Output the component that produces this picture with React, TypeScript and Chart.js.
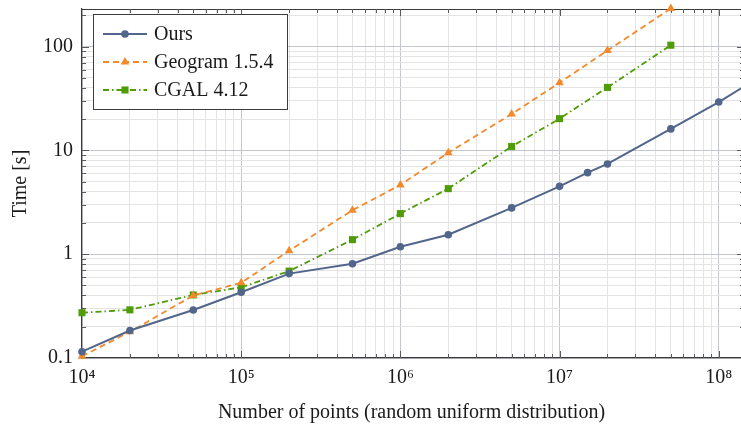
import React, { useEffect, useRef } from "react";
import { Chart, registerables } from "chart.js";

Chart.register(...registerables);

// ---------- data ----------
const seriesNames = ["Ours", "Geogram 1.5.4", "CGAL 4.12"];

const oursX = [1e4, 2e4, 5e4, 1e5, 2e5, 5e5, 1e6, 2e6, 5e6, 1e7, 1.5e7, 2e7, 5e7, 1e8, 2e8];
const oursT = [0.115, 0.184, 0.29, 0.43, 0.65, 0.81, 1.18, 1.54, 2.79, 4.5, 6.1, 7.4, 16.1, 29.2, 56];

const geogramX = [1e4, 2e4, 5e4, 1e5, 2e5, 5e5, 1e6, 2e6, 5e6, 1e7, 2e7, 5e7];
const geogramT = [0.104, 0.179, 0.4, 0.53, 1.08, 2.65, 4.65, 9.5, 22.4, 44.8, 91.6, 232];

const cgalX = [1e4, 2e4, 5e4, 1e5, 2e5, 5e5, 1e6, 2e6, 5e6, 1e7, 2e7, 5e7];
const cgalT = [0.273, 0.291, 0.405, 0.479, 0.687, 1.38, 2.46, 4.28, 10.9, 20.2, 40.4, 103];

const xMajorTicks = [1e4, 1e5, 1e6, 1e7, 1e8];
const xTickLabels = ["10⁴", "10⁵", "10⁶", "10⁷", "10⁸"];
const yMajorTicks = [0.1, 1, 10, 100];
const yTickLabels = ["0.1", "1", "10", "100"];
const minorSteps = [2, 3, 4, 5, 6, 7, 8, 9];

const xMin = 1e4;
const xMax = 1.38e8;
const yMin = 0.1;
const yMax = 230;

const xTitle = "Number of points (random uniform distribution)";
const yTitle = "Time [s]";

// ---------- styles ----------
const FONT = '"Liberation Serif", "DejaVu Serif", serif';
const TEXT = "#1a1a1a";
const AXIS = "#3c3c3c";
const GRID_MAJOR = "#c3c7cc";
const GRID_MINOR = "#e4e4e4";
const C_OURS = "#52658b";
const C_GEO = "#f3892b";
const C_CGAL = "#4f9c08";

const isMajor = (v: number) => {
  const l = Math.log10(v);
  return Math.abs(l - Math.round(l)) < 1e-6;
};

const buildTicks = (majors: number[], min: number, max: number) => {
  const out: number[] = [];
  majors.forEach((m) => {
    out.push(m);
    minorSteps.forEach((s) => out.push(m * s));
  });
  return out.filter((v) => v >= min * 0.9999 && v <= max * 1.0001).sort((a, b) => a - b);
};

const labelFor = (v: number, majors: number[], labels: string[]) => {
  for (let i = 0; i < majors.length; i++) {
    if (Math.abs(Math.log10(v) - Math.log10(majors[i])) < 1e-6) return labels[i];
  }
  return "";
};

const drawMarker = (ctx: CanvasRenderingContext2D, style: string, x: number, y: number, r: number) => {
  ctx.beginPath();
  if (style === "circle") {
    ctx.arc(x, y, r, 0, Math.PI * 2);
  } else if (style === "triangle") {
    ctx.moveTo(x, y - r);
    ctx.lineTo(x + r * 0.866, y + r * 0.5);
    ctx.lineTo(x - r * 0.866, y + r * 0.5);
    ctx.closePath();
  } else {
    const s = r * Math.SQRT1_2;
    ctx.rect(x - s, y - s, 2 * s, 2 * s);
  }
  ctx.fill();
};

const framePlugin = {
  id: "frameTicks",
  beforeDatasetsDraw(chart: any) {
    const { ctx, chartArea: a, scales } = chart;
    ctx.save();
    ctx.strokeStyle = AXIS;
    ctx.lineWidth = 1.2;
    ctx.beginPath();
    ctx.moveTo(a.left, Math.round(a.top) + 0.5);
    ctx.lineTo(a.right + 4, Math.round(a.top) + 0.5);
    ctx.stroke();

    ctx.strokeStyle = "#5a5a5a";
    ctx.lineWidth = 1;
    ctx.beginPath();
    scales.x.ticks.forEach((t: any) => {
      const p = Math.round(scales.x.getPixelForValue(t.value)) + 0.5;
      if (p <= a.left + 1 || p >= a.right - 1) return;
      const len = isMajor(t.value) ? 7 : 4;
      ctx.moveTo(p, a.bottom);
      ctx.lineTo(p, a.bottom - len);
      ctx.moveTo(p, a.top);
      ctx.lineTo(p, a.top + len);
    });
    scales.y.ticks.forEach((t: any) => {
      const p = Math.round(scales.y.getPixelForValue(t.value)) + 0.5;
      if (p <= a.top + 1 || p >= a.bottom - 1) return;
      const len = isMajor(t.value) ? 7 : 4;
      ctx.moveTo(a.left, p);
      ctx.lineTo(a.left + len, p);
      ctx.moveTo(a.right + 3, p);
      ctx.lineTo(a.right + 3 - len, p);
    });
    ctx.stroke();
    ctx.restore();
  },
};

const legendPlugin = {
  id: "boxLegend",
  afterDatasetsDraw(chart: any) {
    const { ctx, chartArea: a } = chart;
    const x0 = Math.round(a.left) + 11;
    const y0 = Math.round(a.top) + 5;
    const w = 194;
    const h = 95;
    ctx.save();
    ctx.fillStyle = "#ffffff";
    ctx.fillRect(x0, y0, w, h);
    ctx.strokeStyle = AXIS;
    ctx.lineWidth = 1;
    ctx.strokeRect(x0 + 0.5, y0 + 0.5, w, h);
    chart.data.datasets.forEach((ds: any, i: number) => {
      const cy = y0 + 20 + i * 28;
      ctx.setLineDash(ds.borderDash || []);
      ctx.strokeStyle = ds.borderColor;
      ctx.lineWidth = ds.borderWidth;
      ctx.beginPath();
      ctx.moveTo(x0 + 10, cy);
      ctx.lineTo(x0 + 54, cy);
      ctx.stroke();
      ctx.setLineDash([]);
      ctx.fillStyle = ds.pointBackgroundColor;
      drawMarker(ctx, ds.pointStyle, x0 + 32, cy, ds.pointRadius);
      ctx.fillStyle = TEXT;
      ctx.font = `20px ${FONT}`;
      ctx.textBaseline = "middle";
      ctx.textAlign = "left";
      ctx.fillText(ds.label, x0 + 61, cy + 1);
    });
    ctx.restore();
  },
};

export default function App() {
  const canvasRef = useRef<HTMLCanvasElement | null>(null);

  useEffect(() => {
    if (!canvasRef.current) return;
    const toPts = (xs: number[], ys: number[]) => xs.map((x, i) => ({ x, y: ys[i] }));

    const chart = new Chart(canvasRef.current, {
      type: "line",
      data: {
        datasets: [
          {
            label: seriesNames[0],
            data: toPts(oursX, oursT),
            borderColor: C_OURS,
            backgroundColor: C_OURS,
            pointBackgroundColor: C_OURS,
            pointBorderColor: C_OURS,
            pointBorderWidth: 0,
            pointStyle: "circle",
            pointRadius: 3.8,
            borderWidth: 2,
            tension: 0,
            clip: false,
          },
          {
            label: seriesNames[1],
            data: toPts(geogramX, geogramT),
            borderColor: C_GEO,
            backgroundColor: C_GEO,
            pointBackgroundColor: C_GEO,
            pointBorderColor: C_GEO,
            pointBorderWidth: 0,
            pointStyle: "triangle",
            pointRadius: 5,
            borderWidth: 1.8,
            borderDash: [6, 4],
            tension: 0,
            clip: false,
          },
          {
            label: seriesNames[2],
            data: toPts(cgalX, cgalT),
            borderColor: C_CGAL,
            backgroundColor: C_CGAL,
            pointBackgroundColor: C_CGAL,
            pointBorderColor: C_CGAL,
            pointBorderWidth: 0,
            pointStyle: "rect",
            pointRadius: 5,
            borderWidth: 1.8,
            borderDash: [6, 3, 1.5, 3],
            tension: 0,
            clip: false,
          },
        ] as any,
      },
      options: {
        responsive: false,
        animation: false,
        devicePixelRatio: 1,
        layout: { autoPadding: false, padding: { top: 9, right: 0, left: 0, bottom: 0 } },
        plugins: { legend: { display: false }, tooltip: { enabled: false } },
        font: { family: FONT, size: 20 } as any,
        scales: {
          x: {
            type: "logarithmic",
            min: xMin,
            max: xMax,
            afterBuildTicks: (scale: any) => {
              scale.ticks = buildTicks(xMajorTicks, xMin, xMax).map((v) => ({ value: v, major: false }));
            },
            afterFit: (scale: any) => {
              scale.height = 68;
              scale.paddingLeft = 0;
              scale.paddingRight = 0;
            },
            grid: {
              color: (c: any) => (c.tick && isMajor(c.tick.value) ? GRID_MAJOR : GRID_MINOR),
              lineWidth: 1,
              drawTicks: false,
            },
            border: { display: true, color: AXIS, width: 1.2 },
            ticks: {
              autoSkip: false,
              maxRotation: 0,
              minRotation: 0,
              padding: 8,
              color: TEXT,
              font: { family: FONT, size: 20 },
              callback: (v: any) => labelFor(Number(v), xMajorTicks, xTickLabels),
            },
            title: {
              display: true,
              text: xTitle,
              color: TEXT,
              font: { family: FONT, size: 20 },
              padding: { top: 0, bottom: 1 },
            },
          },
          y: {
            type: "logarithmic",
            min: yMin,
            max: yMax,
            afterBuildTicks: (scale: any) => {
              scale.ticks = buildTicks(yMajorTicks, yMin, yMax).map((v) => ({ value: v, major: false }));
            },
            afterFit: (scale: any) => {
              scale.width = 82;
              scale.paddingTop = 0;
              scale.paddingBottom = 0;
            },
            grid: {
              color: (c: any) => (c.tick && isMajor(c.tick.value) ? GRID_MAJOR : GRID_MINOR),
              lineWidth: 1,
              drawTicks: false,
            },
            border: { display: true, color: AXIS, width: 1.2 },
            ticks: {
              autoSkip: false,
              padding: 9,
              color: TEXT,
              font: { family: FONT, size: 20 },
              callback: (v: any) => labelFor(Number(v), yMajorTicks, yTickLabels),
            },
            title: {
              display: true,
              text: yTitle,
              color: TEXT,
              font: { family: FONT, size: 20 },
              padding: { top: 9, bottom: 0 },
            },
          },
        },
      },
      plugins: [framePlugin, legendPlugin],
    } as any);

    return () => chart.destroy();
  }, []);

  return (
    <div style={{ position: "fixed", left: 0, top: 0, width: 741, height: 426, background: "#ffffff" }}>
      <canvas ref={canvasRef} width={741} height={426} style={{ display: "block", width: 741, height: 426 }} />
    </div>
  );
}
